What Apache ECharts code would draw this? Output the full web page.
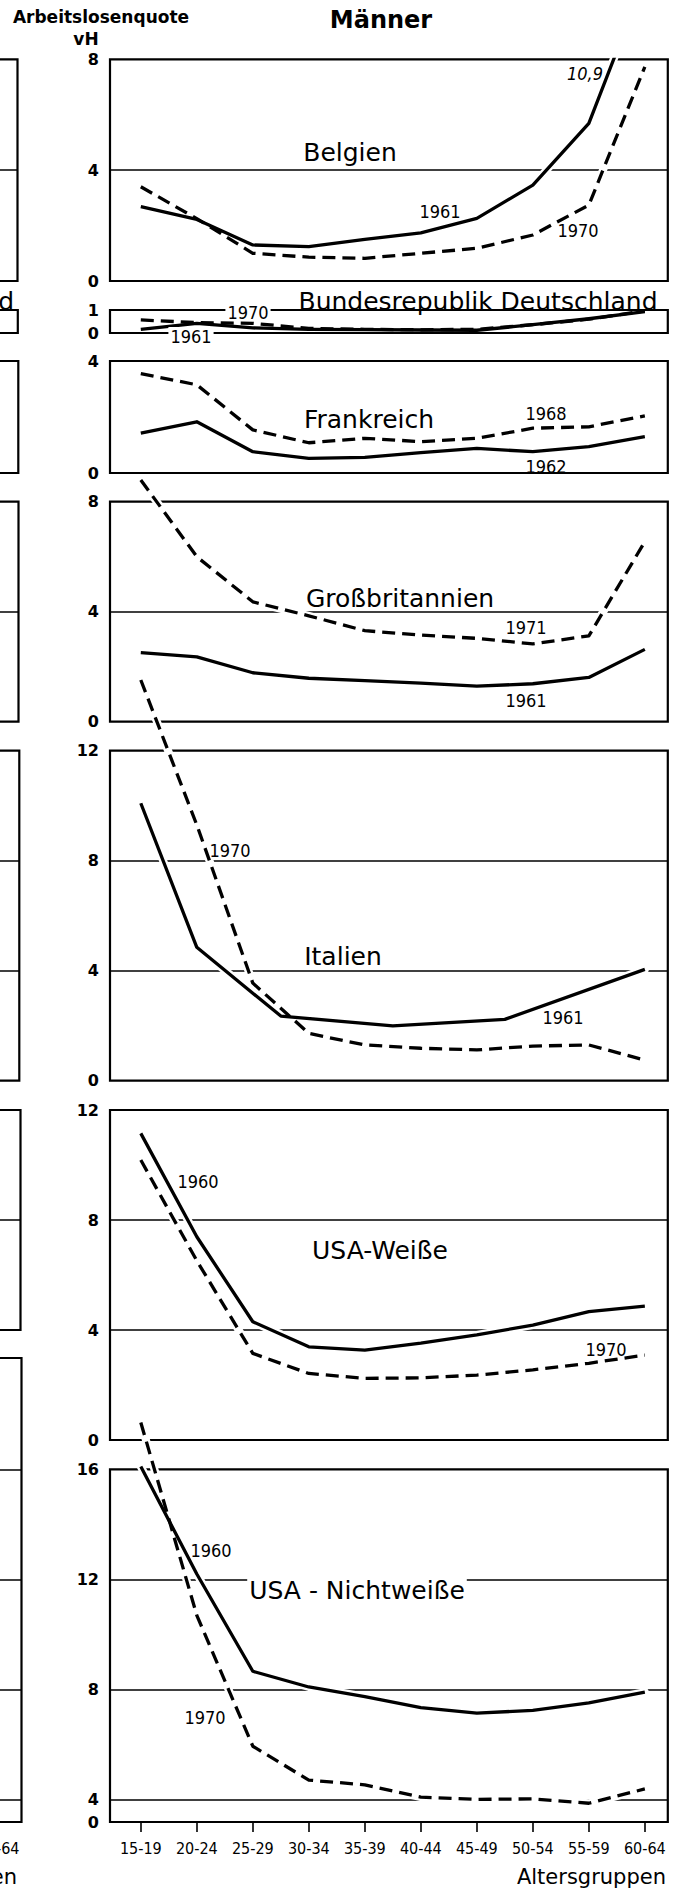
<!DOCTYPE html>
<html><head><meta charset="utf-8">
<script src="https://cdn.jsdelivr.net/npm/echarts@6/dist/echarts.min.js"></script>
<style>html,body{margin:0;padding:0;background:#fff}#c{width:680px;height:1890px}</style>
</head><body><div id="c"></div>
<script>
// ---------- data ----------
const ageGroups = ['15-19','20-24','25-29','30-34','35-39','40-44','45-49','50-54','55-59','60-64'];
const agePos = [0,1,2,3,4,5,6,7,8,9];
const italien1961Pos = [0,1,2.5,4.5,6.5,9];
const leftVisibleAgePos = [9];   // only the last age group of the cut-off left chart is in view

const belgien1961 = [2.68,2.22,1.30,1.24,1.50,1.74,2.26,3.46,5.69,10.9];
const belgien1970 = [3.40,2.25,1.00,0.86,0.82,1.00,1.18,1.66,2.74,7.73];
const brd1961 = [0.16,0.42,0.22,0.16,0.15,0.13,0.12,0.36,0.62,0.93];
const brd1970 = [0.57,0.45,0.42,0.20,0.16,0.14,0.16,0.36,0.60,0.97];
const frankreich1962 = [1.42,1.83,0.76,0.52,0.56,0.73,0.88,0.76,0.94,1.30];
const frankreich1968 = [3.55,3.15,1.54,1.08,1.24,1.12,1.24,1.60,1.65,2.04];
const gb1961 = [2.51,2.36,1.78,1.58,1.49,1.40,1.29,1.38,1.61,2.63];
const gb1971 = [8.79,6.00,4.36,3.85,3.31,3.15,3.03,2.83,3.12,6.55];
const italien1961 = [10.09,4.85,2.35,1.99,2.23,4.05];
const italien1970 = [14.57,9.30,3.55,1.72,1.30,1.18,1.12,1.26,1.30,0.75];
const usaW1960 = [11.15,7.39,4.30,3.39,3.27,3.52,3.82,4.18,4.67,4.87];
const usaW1970 = [10.18,6.52,3.15,2.42,2.24,2.26,2.36,2.55,2.79,3.09];
const usaN1960 = [16.1,12.2,8.67,8.1,7.75,7.35,7.15,7.25,7.52,7.91];
const usaN1970 = [17.7,10.7,5.95,4.72,4.55,4.10,4.02,4.04,3.88,4.40];

// y tick labels (value -> text)
const belgienTicks = [0,4,8];
const brdTicks = [0,1];
const frankreichTicks = [0,4];
const gbTicks = [0,4,8];
const italienTicks = [0,4,8,12];
const usaWTicks = [0,4,8,12];
const usaNTicks = [3.2,4,8,12,16];
const usaNTickText = ['0','4','8','12','16'];

// horizontal gridlines
const belgienLines = [4];
const gbLines = [4];
const italienLines = [4,8];
const usaWLines = [4,8];
const usaNLines = [4,8,12];
// cut-off left (Frauen) panels
const leftBelgienLines = [4];
const leftGbLines = [4];
const leftItalienLines = [4,8];
const leftUsaWLines = [4];
const leftUsaNLines = [4,8,12,16];

// ---------- layout / style ----------
const FONT = "'DejaVu Sans', sans-serif";
const COND = "'DejaVu Sans Condensed', 'DejaVu Sans', sans-serif";
const X_MIN = -0.55, X_MAX = 9.41;
const PLOT_LEFT = 110, PLOT_W = 557.8;
const INK = '#000';

const panels = [
  {top:59.3, bottom:281, min:0, max:8, interval:4, ticks:belgienTicks, lines:belgienLines, halo:true,
   curves:[{x:agePos, y:belgien1961, dashed:false, clip:true},{x:agePos, y:belgien1970, dashed:true, clip:true}]},
  {top:310, bottom:333, min:0, max:1, interval:1, ticks:brdTicks, lines:[], halo:false,
   curves:[{x:agePos, y:brd1961, dashed:false, clip:false},{x:agePos, y:brd1970, dashed:true, clip:false}]},
  {top:361, bottom:473, min:0, max:4, interval:4, ticks:frankreichTicks, lines:[], halo:true,
   curves:[{x:agePos, y:frankreich1962, dashed:false, clip:false},{x:agePos, y:frankreich1968, dashed:true, clip:false}]},
  {top:501.7, bottom:721.7, min:0, max:8, interval:4, ticks:gbTicks, lines:gbLines, halo:true,
   curves:[{x:agePos, y:gb1961, dashed:false, clip:false},{x:agePos, y:gb1971, dashed:true, clip:false}]},
  {top:750.7, bottom:1080.7, min:0, max:12, interval:4, ticks:italienTicks, lines:italienLines, halo:true,
   curves:[{x:italien1961Pos, y:italien1961, dashed:false, clip:false},{x:agePos, y:italien1970, dashed:true, clip:false}]},
  {top:1110, bottom:1440, min:0, max:12, interval:4, ticks:usaWTicks, lines:usaWLines, halo:true,
   curves:[{x:agePos, y:usaW1960, dashed:false, clip:false},{x:agePos, y:usaW1970, dashed:true, clip:false}]},
  {top:1469.3, bottom:1822, min:3.2, max:16, ticks:usaNTicks, tickText:usaNTickText, lines:usaNLines, halo:true,
   curves:[{x:agePos, y:usaN1960, dashed:false, clip:false},{x:agePos, y:usaN1970, dashed:true, clip:false}]}
];

const leftPanels = [
  {top:59.3, bottom:281, min:0, max:8, lines:leftBelgienLines, right:17.5},
  {top:310, bottom:333, min:0, max:1, lines:[], right:17.8},
  {top:361, bottom:473, min:0, max:4, lines:[], right:18.3},
  {top:501.7, bottom:721.7, min:0, max:8, lines:leftGbLines, right:18.5},
  {top:750.7, bottom:1080.7, min:0, max:12, lines:leftItalienLines, right:19.3},
  {top:1110, bottom:1330, min:0, max:8, lines:leftUsaWLines, right:20.5},
  {top:1358, bottom:1822, min:3.2, max:20.04, lines:leftUsaNLines, right:21.5, bottomAxis:true}
];

const grids = [], xAxes = [], yAxes = [], series = [];

function gridlineCarrier(gi, lines) {
  return {
    type:'line', xAxisIndex:gi, yAxisIndex:gi, data:[], silent:true, z:1,
    markLine:{
      silent:true, symbol:'none', z:1, animation:false,
      label:{show:false},
      lineStyle:{color:INK, width:1.5, type:'solid'},
      data: lines.map(v => ({yAxis:v}))
    }
  };
}

function bottomXAxis(gi, positions) {
  return {
    gridIndex:gi, type:'value', min:X_MIN, max:X_MAX,
    axisLine:{show:false}, splitLine:{show:false},
    axisTick:{show:true, customValues:positions, length:10, inside:false, lineStyle:{color:INK, width:1.6}},
    axisLabel:{show:true, customValues:positions, margin:18, color:INK,
      fontFamily:COND, fontSize:16,
      formatter:v => ageGroups[agePos.indexOf(Math.round(v))]}
  };
}

function makeGrid(left, top, bottom) {
  return {show:true, left:left, width:PLOT_W, top:top, height:bottom - top,
    borderColor:INK, borderWidth:2.2, backgroundColor:'rgba(0,0,0,0)',
    containLabel:false, outerBoundsMode:'none'};
}

panels.forEach((p, i) => {
  grids.push(makeGrid(PLOT_LEFT, p.top, p.bottom));
  if (i === panels.length - 1) xAxes.push(bottomXAxis(i, agePos));
  else xAxes.push({gridIndex:i, type:'value', min:X_MIN, max:X_MAX, show:false});
  const y = {gridIndex:i, type:'value', min:p.min, max:p.max,
    axisLine:{show:false}, axisTick:{show:false}, splitLine:{show:false},
    axisLabel:{show:true, customValues:p.ticks, margin:11, color:INK,
      fontFamily:FONT, fontWeight:'bold', fontSize:16,
      formatter: v => p.tickText ? p.tickText[p.ticks.indexOf(v)] : String(v)}};
  if (p.interval) y.interval = p.interval;
  yAxes.push(y);
  series.push(gridlineCarrier(i, p.lines));
  p.curves.forEach(c => {
    const pts = c.y.map((v, k) => [c.x[k], v]);
    if (p.halo) series.push({type:'line', xAxisIndex:i, yAxisIndex:i, data:pts, symbol:'none',
      silent:true, clip:c.clip, z:2, lineStyle:{color:'#fff', width:8, type:'solid', cap:'round'}});
    series.push({type:'line', xAxisIndex:i, yAxisIndex:i, data:pts, symbol:'none',
      silent:true, clip:c.clip, z:3,
      lineStyle:{color:INK, width:3.3, type:c.dashed ? [13,7] : 'solid', cap:'butt', join:'round'}});
  });
});

leftPanels.forEach((p, j) => {
  const gi = panels.length + j;
  grids.push(makeGrid(p.right - PLOT_W, p.top, p.bottom));
  if (p.bottomAxis) xAxes.push(bottomXAxis(gi, leftVisibleAgePos));
  else xAxes.push({gridIndex:gi, type:'value', min:X_MIN, max:X_MAX, show:false});
  yAxes.push({gridIndex:gi, type:'value', min:p.min, max:p.max, show:false});
  series.push(gridlineCarrier(gi, p.lines));
});

// ---------- text ----------
function txt(text, x, y, font, opts) {
  opts = opts || {};
  return {type:'text', x:x, y:y, z:100, silent:true,
    style:Object.assign({text:text, font:font, fill:INK, align:opts.align || 'center', verticalAlign:'middle'},
      opts.bg ? {backgroundColor:'#fff', padding:[0,2]} : {})};
}
const F_TITLE = "bold 24px " + FONT;
const F_AXT = "bold 17px " + FONT;
const F_LAB = "25px " + FONT;
const F_YEAR = "18px " + COND;
const graphics = [
  txt('Arbeitslosenquote', 101, 17, F_AXT),
  txt('vH', 86, 39, F_AXT),
  txt('Männer', 381, 20, F_TITLE),
  txt('Belgien', 350, 152, F_LAB),
  txt('1961', 440, 211, F_YEAR),
  txt('1970', 578, 230, F_YEAR),
  txt('10,9', 603, 73, "italic 18px " + COND, {align:'right'}),
  txt('Bundesrepublik Deutschland', 478, 301, F_LAB),
  txt('1970', 248, 312, F_YEAR, {bg:true}),
  txt('1961', 191, 336, F_YEAR, {bg:true}),
  txt('Frankreich', 369, 419, F_LAB),
  txt('1968', 546, 413, F_YEAR),
  txt('1962', 546, 466, F_YEAR),
  txt('Großbritannien', 400, 598, F_LAB),
  txt('1971', 526, 627, F_YEAR),
  txt('1961', 526, 700, F_YEAR),
  txt('Italien', 343, 956, F_LAB),
  txt('1970', 230, 850, F_YEAR),
  txt('1961', 563, 1017, F_YEAR),
  txt('USA-Weiße', 380, 1250, F_LAB),
  txt('1960', 198, 1181, F_YEAR),
  txt('1970', 606, 1349, F_YEAR),
  txt('USA - Nichtweiße', 357, 1590, F_LAB, {bg:true}),
  txt('1960', 211, 1550, F_YEAR),
  txt('1970', 205, 1717, F_YEAR),
  txt('Altersgruppen', 666, 1877, "21px " + FONT, {align:'right'}),
  // cut-off left (Frauen) chart
  txt('Bundesrepublik Deutschland', 14, 301, F_LAB, {align:'right'}),
  txt('Altersgruppen', 17, 1877, "21px " + FONT, {align:'right'})
];

const chart = echarts.init(document.getElementById('c'), null, {renderer:'svg', width:680, height:1890});
chart.setOption({
  animation:false,
  backgroundColor:'#fff',
  grid:grids, xAxis:xAxes, yAxis:yAxes, series:series,
  graphic:graphics
});
</script></body></html>
